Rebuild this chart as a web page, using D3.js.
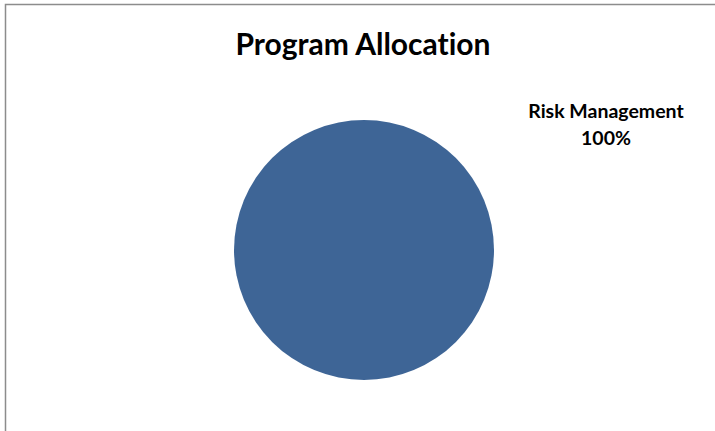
<!DOCTYPE html>
<html>
<head>
  <title>Program Allocation</title>
  <script src="https://d3js.org/d3.v7.min.js"></script>
  <style>
    body { margin: 0; background: #fff; }
    text { font-variant-ligatures: none; }
  </style>
</head>
<body>
  <div id="chart"></div>
  <script>
    const categories = ["Risk Management"];
    const values = [100];
    const colors = ["#3e6596"];

    const width = 715, height = 431;
    const svg = d3.select("#chart").append("svg")
      .attr("width", width)
      .attr("height", height);

    // chart area border (runs off the right and bottom edges)
    svg.append("rect")
      .attr("x", 5.5)
      .attr("y", 4.5)
      .attr("width", width + 20)
      .attr("height", height + 20)
      .attr("fill", "#fff")
      .attr("stroke", "#8c8c8c")
      .attr("stroke-width", 1.5);

    svg.append("text")
      .attr("x", 363)
      .attr("y", 55)
      .attr("text-anchor", "middle")
      .attr("font-family", "Lato, 'Open Sans', sans-serif")
      .attr("font-weight", "bold")
      .attr("font-size", "30px")
      .attr("fill", "#000")
      .text("Program Allocation");

    const cx = 364, cy = 250, r = 130;
    const pie = d3.pie().sort(null).value(d => d.value);
    const arc = d3.arc().innerRadius(0).outerRadius(r);
    const data = categories.map((c, i) => ({ name: c, value: values[i], color: colors[i] }));
    const total = d3.sum(values);

    const g = svg.append("g").attr("transform", `translate(${cx},${cy})`);
    g.selectAll("path")
      .data(pie(data))
      .join("path")
      .attr("d", arc)
      .attr("fill", d => d.data.color);

    // data label placed outside, upper right
    const label = svg.append("text")
      .attr("text-anchor", "middle")
      .attr("font-family", "Lato, 'Open Sans', sans-serif")
      .attr("font-weight", "bold")
      .attr("font-size", "19.5px")
      .attr("fill", "#000");
    label.append("tspan").attr("x", 606).attr("y", 118).text(data[0].name);
    label.append("tspan").attr("x", 606).attr("y", 145)
      .text(d3.format(".0%")(data[0].value / total));
  </script>
</body>
</html>
